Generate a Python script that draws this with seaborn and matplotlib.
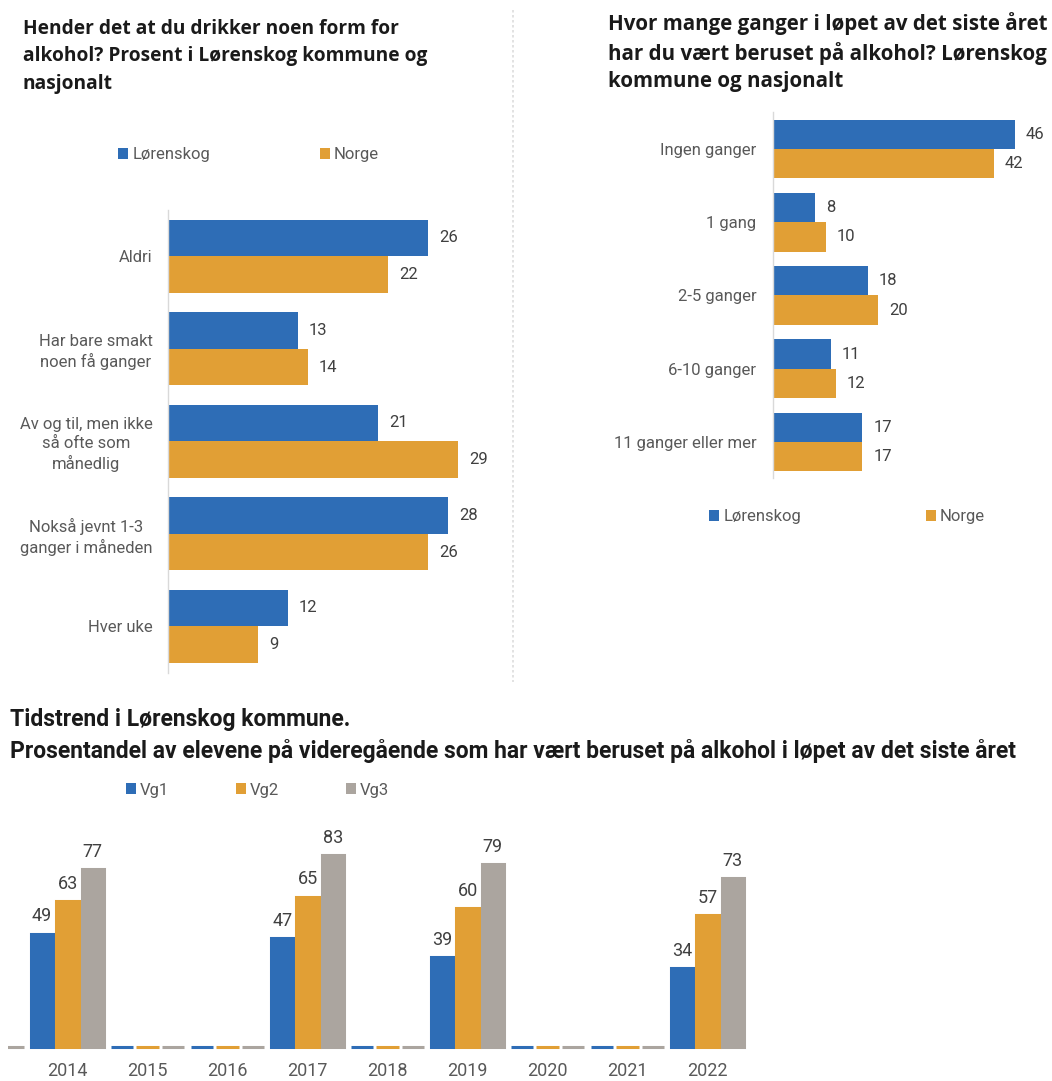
import pandas as pd
import numpy as np
import matplotlib.pyplot as plt
import seaborn as sns
from matplotlib.lines import Line2D

# --------------------------
# Data
# --------------------------
drink_cats = ['Aldri', 'Har bare smakt\nnoen få ganger',
              'Av og til, men ikke\nså ofte som\nmånedlig',
              'Nokså jevnt 1-3\nganger i måneden', 'Hver uke']
drink_lor = [26, 13, 21, 28, 12]
drink_nor = [22, 14, 29, 26, 9]

drunk_cats = ['Ingen ganger', '1 gang', '2-5 ganger', '6-10 ganger', '11 ganger eller mer']
drunk_lor = [46, 8, 18, 11, 17]
drunk_nor = [42, 10, 20, 12, 17]

years = ['2013', '2014', '2015', '2016', '2017', '2018', '2019', '2020', '2021', '2022']
vg1 = [0, 49, 0, 0, 47, 0, 39, 0, 0, 34]
vg2 = [0, 63, 0, 0, 65, 0, 60, 0, 0, 57]
vg3 = [0, 77, 0, 0, 83, 0, 79, 0, 0, 73]

BLUE = '#2E6DB6'
ORANGE = '#E19F35'
GRAY = '#ABA59F'
TICK = '#595959'
VAL = '#404040'
TITLE_FONT = ['Open Sans', 'DejaVu Sans']

sns.set_style('white')
plt.rcParams['font.family'] = ['Roboto', 'DejaVu Sans']

W, H = 1052, 1081
fig = plt.figure(figsize=(W / 100, H / 100), dpi=100)


def rect(x0, y0, x1, y1):
    return [x0 / W, 1 - y1 / H, (x1 - x0) / W, (y1 - y0) / H]


def style_hbar(ax, xmax, pad):
    ax.set_xlim(0, xmax)
    ax.set_ylim(4.5, -0.5)
    ax.set_xlabel('')
    ax.set_ylabel('')
    ax.set_xticks([])
    for s in ['top', 'right', 'bottom']:
        ax.spines[s].set_visible(False)
    ax.spines['left'].set_color('#D9D9D9')
    ax.spines['left'].set_linewidth(1)
    ax.tick_params(axis='y', length=0, pad=pad, labelsize=12, labelcolor=TICK)
    for t in ax.get_yticklabels():
        t.set_multialignment('center')
        t.set_linespacing(1.3)
    for c in ax.containers:
        ax.bar_label(c, padding=8, fontsize=12, color=VAL)
    if ax.get_legend() is not None:
        ax.get_legend().remove()


# --------------------------
# Top left: drinking
# --------------------------
df1 = pd.DataFrame({'cat': drink_cats * 2,
                    'value': drink_lor + drink_nor,
                    'group': ['Lørenskog'] * 5 + ['Norge'] * 5})
ax1 = fig.add_axes(rect(168, 210, 508, 672.5))
sns.barplot(data=df1, y='cat', x='value', hue='group', orient='h', saturation=1,
            palette=[BLUE, ORANGE], width=0.79, ax=ax1, linewidth=0)
style_hbar(ax1, 34, 11)

fig.text(23 / W, 1 - 19 / H,
         'Hender det at du drikker noen form for\nalkohol? Prosent i Lørenskog kommune og\nnasjonalt',
         ha='left', va='top', fontsize=13.8, fontweight='bold', color='#1A1A1A',
         linespacing=1.5, family=TITLE_FONT)

# --------------------------
# Top right: drunk
# --------------------------
df2 = pd.DataFrame({'cat': drunk_cats * 2,
                    'value': drunk_lor + drunk_nor,
                    'group': ['Lørenskog'] * 5 + ['Norge'] * 5})
ax2 = fig.add_axes(rect(773, 112.5, 1045, 478.5))
sns.barplot(data=df2, y='cat', x='value', hue='group', orient='h', saturation=1,
            palette=[BLUE, ORANGE], width=0.8, ax=ax2, linewidth=0)
style_hbar(ax2, 51.8, 12)

fig.text(608 / W, 1 - 12 / H,
         'Hvor mange ganger i løpet av det siste året\nhar du vært beruset på alkohol? Lørenskog\nkommune og nasjonalt',
         ha='left', va='top', fontsize=14.8, fontweight='bold', color='#1A1A1A',
         linespacing=1.38, family=TITLE_FONT)


# legends for top panels
def sq(color):
    return plt.Rectangle((0, 0), 1, 1, facecolor=color, edgecolor='none')


leg_kw = dict(ncol=2, frameon=False, fontsize=12, handlelength=0.6, handleheight=0.6,
              handletextpad=0.25, labelcolor=TICK, borderaxespad=0, borderpad=0)
fig.legend([sq(BLUE), sq(ORANGE)], ['Lørenskog', 'Norge'], loc='center left',
           bbox_to_anchor=(118 / W, 1 - 155 / H), columnspacing=6.6, **leg_kw)
fig.legend([sq(BLUE), sq(ORANGE)], ['Lørenskog', 'Norge'], loc='center left',
           bbox_to_anchor=(709 / W, 1 - 517 / H), columnspacing=7.5, **leg_kw)

# divider
fig.add_artist(Line2D([513 / W, 513 / W], [1 - 10 / H, 1 - 682 / H], color='#DDDDDD',
                      linewidth=1.2, linestyle=(0, (1.5, 1.5))))

# --------------------------
# Bottom: trend
# --------------------------
df3 = pd.DataFrame({'year': years * 3,
                    'value': vg1 + vg2 + vg3,
                    'trinn': ['Vg1'] * 10 + ['Vg2'] * 10 + ['Vg3'] * 10})
ax3 = fig.add_axes(rect(8, 830, 808, 1055))
sns.barplot(data=df3, x='year', y='value', hue='trinn', palette=[BLUE, ORANGE, GRAY],
            saturation=1, width=0.95, gap=0.12, ax=ax3, linewidth=0)
for p in ax3.patches:
    p.set_edgecolor(p.get_facecolor())
    p.set_linewidth(2.2)
ax3.set_xlim(0.256, 10.256)
ax3.set_ylim(-3.46, 93.9)
ax3.set_xlabel('')
ax3.set_ylabel('')
ax3.set_yticks([])
for s in ['top', 'right', 'bottom', 'left']:
    ax3.spines[s].set_visible(False)
ax3.tick_params(axis='x', length=0, pad=5, labelsize=13, labelcolor=TICK)
for c, vals in zip(ax3.containers, [vg1, vg2, vg3]):
    ax3.bar_label(c, labels=[str(v) if v else '' for v in vals], padding=6,
                  fontsize=13, color=VAL)
ax3.get_legend().remove()

fig.text(10 / W, 1 - 708 / H,
         'Tidstrend i Lørenskog kommune.\nProsentandel av elevene på videregående som har vært beruset på alkohol i løpet av det siste året',
         ha='left', va='top', fontsize=16.5, fontweight='bold', color='#1A1A1A',
         linespacing=1.42)

fig.legend([sq(BLUE), sq(ORANGE), sq(GRAY)], ['Vg1', 'Vg2', 'Vg3'], loc='center left',
           bbox_to_anchor=(126 / W, 1 - 790 / H), columnspacing=4.0, **{**leg_kw, 'ncol': 3})

fig.savefig('out.png', dpi=100)
